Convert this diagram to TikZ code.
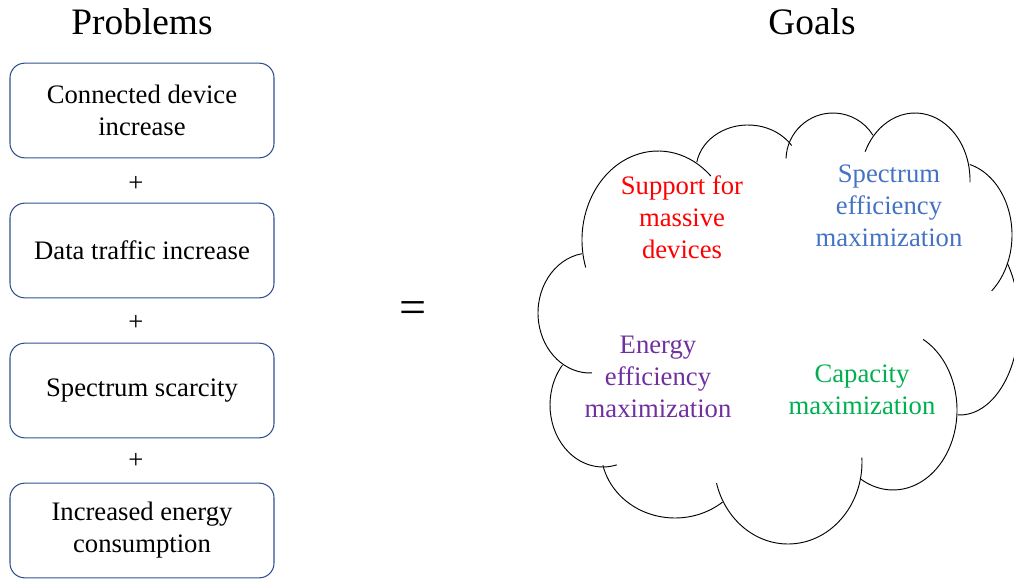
\documentclass[tikz,border=0pt]{standalone}
\usepackage{fontspec}
\setmainfont{Liberation Serif}
\definecolor{boxblue}{RGB}{47, 82, 143}
\definecolor{goalred}{RGB}{255, 0, 0}
\definecolor{goalblue}{RGB}{68, 114, 196}
\definecolor{goalpurple}{RGB}{112, 48, 160}
\definecolor{goalgreen}{RGB}{0, 176, 80}

\begin{document}
\begin{tikzpicture}[
        x=0.75pt, y=0.75pt,
        problem/.style={rectangle, rounded corners=11pt, draw=boxblue, line width=0.8pt, minimum width=198pt, minimum height=71pt, align=center, font=\fontsize{20}{24}\selectfont},
        goal/.style={align=center, font=\fontsize{20}{24}\selectfont},
        heading/.style={font=\fontsize{28}{34}\selectfont},
        plus/.style={font=\fontsize{20}{24}\selectfont},
        bump/.style={line width=0.7pt}
    ]
    \useasboundingbox (0,0) rectangle (1014,-580);
    \clip (0,0) rectangle (1014,-580);

    % Headings
    \node[heading] (problems) at (142,-22) {Problems};
    \node[heading] (goals) at (812,-22) {Goals};

    % Problem boxes
    \node[problem] (devices) at (142,-110.5) {Connected device\\ increase};
    \node[problem] (traffic) at (142,-250.5) {Data traffic increase};
    \node[problem] (scarcity) at (142,-390.5) {Spectrum scarcity};
    \node[problem] (energy) at (142,-530.5) {Increased energy\\ consumption};

    % Plus signs between the boxes
    \node[plus] (plus1) at (136,-184) {+};
    \node[plus] (plus2) at (136,-323) {+};
    \node[plus] (plus3) at (136,-461) {+};

    \node[font=\fontsize{36}{40}\selectfont] (equals) at (413,-313) {=};

    % Cloud bumps
    \draw[bump] (658,-240) ++(198:76 and 89) arc[start angle=198, end angle=46, x radius=76, y radius=89];
    \draw[bump] (748,-170) ++(170:52 and 45) arc[start angle=170, end angle=33, x radius=52, y radius=45];
    \draw[bump] (833,-160) ++(178:47 and 47) arc[start angle=178, end angle=32, x radius=47, y radius=47];
    \draw[bump] (915,-180) ++(155:55 and 67) arc[start angle=155, end angle=-2, x radius=55, y radius=67];
    \draw[bump] (955,-235) ++(75:57 and 73) arc[start angle=75, end angle=-50, x radius=57, y radius=73];
    \draw[bump] (960,-320) ++(37:59 and 95) arc[start angle=37, end angle=-92, x radius=59, y radius=95];
    \draw[bump] (893,-410) ++(62:64 and 80) arc[start angle=62, end angle=-121, x radius=64, y radius=80];
    \draw[bump] (788,-462) ++(3:74 and 82) arc[start angle=3, end angle=-165, x radius=74, y radius=82];
    \draw[bump] (675,-450) ++(-50:74 and 68) arc[start angle=-50, end angle=-167, x radius=74, y radius=68];
    \draw[bump] (603,-405) ++(140:53 and 62) arc[start angle=140, end angle=285, x radius=53, y radius=62];
    \draw[bump] (590,-313) ++(99:52 and 60) arc[start angle=99, end angle=272, x radius=52, y radius=60];

    % Goals inside the cloud
    \node[goal, text=goalred] (massive) at (682,-217) {Support for\\ massive\\ devices};
    \node[goal, text=goalblue] (spectrum) at (889,-206) {Spectrum\\ efficiency\\ maximization};
    \node[goal, text=goalpurple] (energyeff) at (658,-377) {Energy\\ efficiency\\ maximization};
    \node[goal, text=goalgreen] (capacity) at (862,-390) {Capacity\\ maximization};

\end{tikzpicture}
\end{document}
